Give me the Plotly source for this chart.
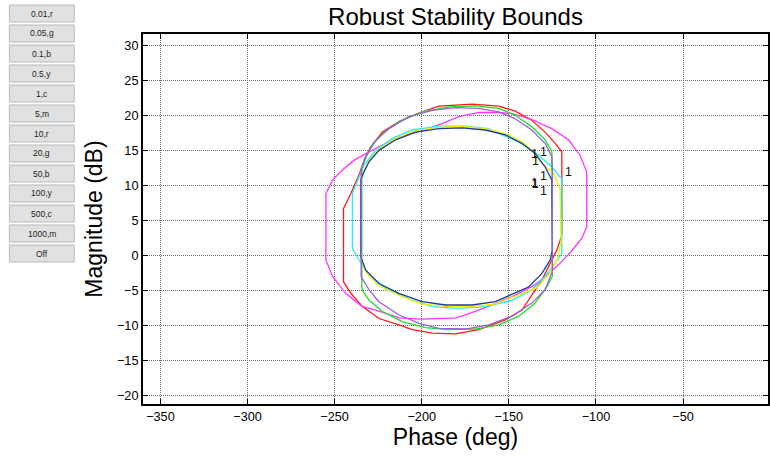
import plotly.graph_objects as go

FONT = "Liberation Sans, Arial, Helvetica, sans-serif"

# ---- bound contours (phase in deg, magnitude in dB) ----
red_phase = [-244.9, -240.7, -236.0, -233.1, -229.3, -222.6, -213.1, -201.6, -190.2, -171.1,
             -155.9, -146.3, -136.8, -129.2, -123.4, -119.6, -119.6, -122.4, -127.2, -131.0,
             -142.5, -152.0, -167.3, -180.6, -194.0, -205.5, -213.0, -224.6, -234.0, -240.7,
             -244.9, -244.9]
red_mag = [6.7, 8.85, 11.5, 13.6, 15.5, 17.6, 19.1, 20.3, 21.3, 21.6,
           21.3, 20.6, 19.3, 17.6, 16.0, 14.8, 2.9, 0.8, -1.6, -3.5,
           -7.8, -9.2, -10.6, -11.2, -11.1, -10.6, -9.9, -9.0, -7.3, -5.4,
           -3.75, 6.7]

green_phase = [-234.4, -232.0, -229.3, -222.6, -213.1, -199.7, -184.5, -169.2, -155.9, -146.3,
               -136.8, -129.2, -125.3, -125.0, -128.2, -134.9, -144.4, -155.9, -169.2, -184.5,
               -197.8, -211.2, -222.6, -230.2, -234.0, -234.4, -234.4]
green_mag = [12.6, 14.0, 15.5, 17.4, 19.1, 20.5, 21.2, 21.35, 21.0, 20.0,
             18.35, 16.5, 14.8, -3.0, -4.5, -6.8, -8.7, -9.9, -10.5, -10.6,
             -10.3, -9.45, -8.0, -6.4, -5.0, -4.5, 12.6]

purple_phase = [-234.8, -232.2, -226.4, -218.8, -207.4, -194.0, -180.7, -167.3, -155.9, -146.3,
                -136.8, -129.2, -125.3, -125.0, -125.0, -129.2, -136.8, -148.3, -161.6, -174.9,
                -190.2, -201.5, -213.0, -224.6, -230.0, -234.8, -234.8]
purple_mag = [12.2, 14.1, 16.4, 18.1, 19.8, 20.7, 21.1, 21.0, 20.5, 19.5,
              17.9, 16.0, 14.1, 12.0, -2.3, -4.9, -6.8, -8.7, -9.9, -10.5,
              -10.4, -9.7, -8.5, -6.6, -5.0, -3.0, 12.2]

blue_phase = [-235.0, -235.0, -233.0, -230.2, -224.5, -215.0, -203.5, -190.2, -176.8, -163.5,
              -152.0, -142.5, -134.9, -129.2, -125.3, -125.0, -126.3, -131.1, -138.7, -148.3,
              -157.8, -171.1, -186.4, -199.8, -213.1, -224.6, -232.1, -235.0]
blue_mag = [-0.2, 10.8, 12.0, 13.4, 15.0, 16.5, 17.6, 18.1, 18.2, 17.9,
            17.2, 16.0, 14.55, 12.65, 10.75, 0.8, -0.66, -2.6, -4.5, -5.6,
            -6.6, -7.07, -7.07, -6.6, -5.4, -4.0, -2.1, -0.2]

yellow_phase = [-235.0, -235.0, -233.0, -230.0, -224.5, -215.0, -203.5, -190.0, -177.0, -163.5,
                -152.0, -142.5, -136.5, -133.0, -124.4, -120.6, -120.0, -122.0, -127.0, -134.0,
                -141.0, -148.0, -158.0, -171.0, -186.0, -200.0, -213.0, -225.0, -232.0, -235.0]
yellow_mag = [-0.5, 10.8, 12.2, 13.6, 15.2, 16.7, 17.8, 18.3, 18.4, 18.1,
              17.4, 16.3, 15.0, 13.6, 11.7, 9.6, 2.0, -0.5, -2.7, -4.6,
              -5.3, -6.0, -6.9, -7.3, -7.3, -6.9, -5.7, -4.3, -2.4, -0.5]

cyan_phase = [-239.8, -239.8, -236.0, -233.1, -226.4, -216.9, -205.5, -190.2, -175.0, -161.6,
              -155.8, -144.3, -133.0, -125.4, -120.6, -119.6, -119.6, -123.4, -129.2, -136.8,
              -148.2, -163.5, -178.8, -194.0, -207.4, -220.7, -230.2, -236.0, -239.8]
cyan_mag = [1.0, 8.85, 11.2, 12.9, 15.0, 16.7, 17.9, 18.45, 18.45, 18.1,
            17.4, 16.2, 14.3, 12.65, 11.2, 11.0, 0.3, -1.1, -3.0, -4.9,
            -6.4, -7.3, -7.55, -7.3, -6.2, -4.7, -2.8, -0.65, 1.0]

magenta_phase = [-255.0, -251.2, -245.5, -238.8, -226.4, -213.1, -199.7, -188.3, -178.8, -167.0,
                 -156.0, -148.2, -136.8, -125.3, -115.8, -109.1, -105.3, -105.3, -108.0, -114.0,
                 -121.0, -128.0, -135.0, -148.3, -167.3, -180.0, -199.9, -213.0, -226.4, -234.1,
                 -243.6, -251.2, -255.0, -255.0]
magenta_mag = [8.85, 10.75, 12.2, 13.6, 15.3, 16.9, 17.8, 18.8, 19.8, 20.4,
               20.4, 20.25, 19.4, 18.1, 16.5, 14.3, 11.9, 4.1, 2.5, 0.6,
               -1.2, -2.8, -4.2, -5.9, -7.8, -8.9, -9.1, -8.9, -7.8, -7.3,
               -5.4, -3.0, -0.65, 8.85]

# frequency labels placed at the bounds
label_phase = [-135.3, -134.7, -130.1, -135.3, -134.8, -130.1, -130.1, -115.8]
label_mag = [14.3, 13.3, 14.65, 10.18, 10.1, 11.23, 9.1, 11.8]
label_text = ["1", "1", "1", "1", "1", "1", "1", "1"]

# frequency selector column (rad/s, colour)
button_labels = ["0.01,r", "0.05,g", "0.1,b", "0.5,y", "1,c", "5,m", "10,r",
                 "20,g", "50,b", "100,y", "500,c", "1000,m", "Off"]

x_ticks = [-350, -300, -250, -200, -150, -100, -50]
y_ticks = [-20, -15, -10, -5, 0, 5, 10, 15, 20, 25, 30]

curves = [
    ("0.01 rad/s", "#ff1a1a", red_phase, red_mag),
    ("1000 rad/s", "#ff33ff", magenta_phase, magenta_mag),
    ("1 rad/s", "#22f0f0", cyan_phase, cyan_mag),
    ("0.05 rad/s", "#22dd22", green_phase, green_mag),
    ("0.5 rad/s", "#f0f000", yellow_phase, yellow_mag),
    ("0.1 rad/s", "#1f3a9e", blue_phase, blue_mag),
    ("50 rad/s", "#9b5fdc", purple_phase, purple_mag),
]

fig = go.Figure()
for name, color, ph, mg in curves:
    fig.add_trace(go.Scatter(x=ph, y=mg, mode="lines", name=name,
                             line=dict(color=color, width=1.3)))

fig.add_trace(go.Scatter(x=label_phase, y=label_mag, mode="text", text=label_text,
                         textposition="middle center", name="labels",
                         textfont=dict(family=FONT, size=12.5, color="#111111")))

# figure geometry in pixels
W, H = 770, 457
L, R, T, B = 143, 0, 34, 53
PW, PH = W - L - R, H - T - B


def px_to_paper_x(px):
    return (px - L) / PW


def px_to_paper_y(py):
    return 1 - (py - T) / PH


for i, lab in enumerate(button_labels):
    top = 5 + 20 * i
    fig.add_shape(type="rect", xref="paper", yref="paper",
                  x0=px_to_paper_x(9), x1=px_to_paper_x(74),
                  y0=px_to_paper_y(top + 17), y1=px_to_paper_y(top),
                  fillcolor="#e1e1e1", line=dict(color="#b9b9b9", width=1))
    fig.add_annotation(xref="paper", yref="paper", x=px_to_paper_x(41.5),
                       y=px_to_paper_y(top + 8.5), text=lab, showarrow=False,
                       xanchor="center", yanchor="middle",
                       font=dict(family=FONT, size=8.5, color="#222222"))

axis_common = dict(
    showline=True, linecolor="black", linewidth=2, mirror="ticks",
    ticks="inside", ticklen=5, tickwidth=1, tickcolor="black",
    showgrid=True, gridcolor="#6e6e6e", gridwidth=1, griddash="1px,1px",
    zeroline=False, tickfont=dict(family=FONT, size=12.7, color="black"),
)

fig.update_layout(
    width=W, height=H, autosize=False,
    margin=dict(l=L, r=R, t=T, b=B),
    paper_bgcolor="white", plot_bgcolor="white",
    showlegend=False,
    title=dict(text="Robust Stability Bounds", x=0.5, xref="paper", xanchor="center",
               y=1 - 16.5 / H, yanchor="middle",
               font=dict(family=FONT, size=24, color="black")),
    xaxis=dict(range=[-360, -360 + PW / 1.7477], tickvals=x_ticks,
               title=dict(text="Phase (deg)", standoff=4,
                          font=dict(family=FONT, size=23, color="black")),
               **axis_common),
    yaxis=dict(range=[-21.2, 31.6], tickvals=y_ticks,
               title=dict(text="Magnitude (dB)", standoff=8,
                          font=dict(family=FONT, size=23, color="black")),
               **axis_common),
)

fig.write_html("out.html")
